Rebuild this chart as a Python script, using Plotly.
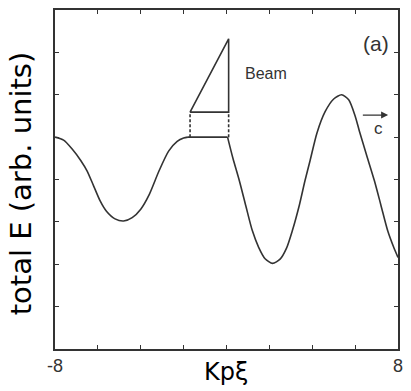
import plotly.graph_objects as go

# Curve data (x in K_p xi, y in arb. units)
left_x = [-8.0, -7.6, -7.2, -6.8, -6.5, -6.2, -5.9, -5.6, -5.2, -4.8, -4.4, -4.0, -3.6, -3.15, -2.7, -2.3, -2.0, -1.8]
left_y = [5.0, 4.93, 4.72, 4.45, 4.2, 3.85, 3.5, 3.25, 3.07, 3.02, 3.1, 3.3, 3.65, 4.2, 4.67, 4.9, 4.98, 5.0]

plateau_x = [-1.8, 0.05]
plateau_y = [5.0, 5.0]

right_x = [0.05, 0.3, 0.6, 0.9, 1.2, 1.5, 1.8, 2.15, 2.5, 2.8, 3.07, 3.4, 3.66, 3.9, 4.22, 4.6, 5.0, 5.37,
           5.7, 6.0, 6.2, 6.55, 6.9, 7.2, 7.52, 7.8, 8.0]
right_y = [5.0, 4.5, 3.97, 3.38, 2.8, 2.4, 2.13, 2.02, 2.12, 2.38, 2.79, 3.4, 3.97, 4.45, 5.1, 5.6, 5.9, 6.0,
           5.88, 5.5, 5.14, 4.55, 3.97, 3.4, 2.79, 2.4, 2.16]

# Beam sketch (triangle above dashed connectors)
beam_left, beam_right = -1.7, 0.1
beam_base, beam_top = 5.59, 7.32

x_ticks = [-8, -6, -4, -2, 0, 2, 4, 6, 8]
x_ticklabels = ["-8", "", "", "", "", "", "", "", "8"]
y_ticks = [0, 1, 2, 3, 4, 5, 6, 7, 8]

LC = "#333333"
fig = go.Figure()
for xs, ys, shape in [(left_x, left_y, "spline"), (plateau_x, plateau_y, "linear"), (right_x, right_y, "spline")]:
    fig.add_trace(go.Scatter(x=xs, y=ys, mode="lines",
                             line=dict(color=LC, width=1.6, shape=shape, smoothing=0.7),
                             showlegend=False, hoverinfo="skip"))

# dashed connectors
for bx in [beam_left, beam_right]:
    fig.add_trace(go.Scatter(x=[bx, bx], y=[plateau_y[0], beam_base], mode="lines",
                             line=dict(color=LC, width=1.6, dash="3px,2px"),
                             showlegend=False, hoverinfo="skip"))
# triangle
fig.add_trace(go.Scatter(x=[beam_left, beam_right, beam_right, beam_left],
                         y=[beam_base, beam_base, beam_top, beam_base], mode="lines",
                         line=dict(color=LC, width=1.6),
                         showlegend=False, hoverinfo="skip"))

fig.add_annotation(x=7.54, y=5.52, ax=6.29, ay=5.52, xref="x", yref="y", axref="x", ayref="y",
                   showarrow=True, arrowhead=2, arrowsize=1, arrowwidth=1.4, arrowcolor=LC, text="")
fig.add_annotation(x=7.08, y=5.2, text="c", showarrow=False,
                   font=dict(family="Liberation Sans Narrow, Liberation Sans", size=17, color=LC))
fig.add_annotation(x=6.98, y=7.2, text="(a)", showarrow=False,
                   font=dict(family="Liberation Sans Narrow, Liberation Sans", size=21, color=LC))
fig.add_annotation(x=1.85, y=6.5, text="Beam", showarrow=False,
                   font=dict(family="Liberation Sans Narrow, Liberation Sans", size=16, color=LC))

fig.add_annotation(xref="paper", yref="paper", x=(20 - 55) / 347, y=0.49, text="total E (arb. units)",
                   textangle=-90, showarrow=False, xanchor="center", yanchor="middle",
                   font=dict(family="DejaVu Sans", size=29, color="black"))
fig.add_annotation(xref="paper", yref="paper", x=0.4986, y=(349 - 372) / 341, text="Kpξ",
                   showarrow=False, xanchor="center", yanchor="middle",
                   font=dict(family="DejaVu Sans", size=24, color="black"))

axis_common = dict(showline=True, linecolor=LC, linewidth=1.6, mirror="ticks",
                   ticks="inside", ticklen=4, tickwidth=1.2, tickcolor=LC,
                   showgrid=False, zeroline=False)
fig.update_xaxes(range=[-8, 8], tickmode="array", tickvals=x_ticks, ticktext=x_ticklabels,
                 tickfont=dict(family="Liberation Sans Narrow, Liberation Sans", size=18, color=LC),
                 **axis_common)
fig.update_yaxes(range=[0, 8], tickmode="array", tickvals=y_ticks, showticklabels=False,
                 **axis_common)
fig.update_layout(width=411, height=391, margin=dict(l=55, r=9, t=8, b=42),
                  plot_bgcolor="white", paper_bgcolor="white")
fig.write_html("out.html")
